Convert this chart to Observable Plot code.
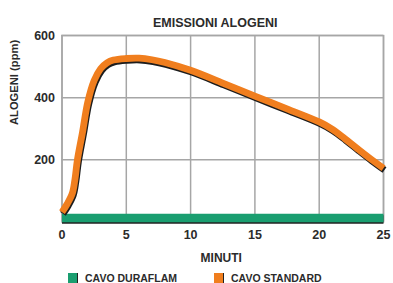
<!DOCTYPE html>
<html>
<head>
<meta charset="utf-8">
<script src="https://cdn.jsdelivr.net/npm/d3@7"></script>
<script src="https://cdn.jsdelivr.net/npm/@observablehq/plot@0.6"></script>
<style>
  html, body { margin: 0; padding: 0; background: #fff; overflow: hidden; }
  #wrap { position: relative; width: 393px; height: 283px; font-family: "Liberation Sans", Arial, sans-serif; font-weight: bold; color: #2b2b2b; }
  .leg { position: absolute; top: 273px; display: flex; align-items: flex-start; font-size: 10.5px; line-height: 10px; white-space: nowrap; }
  .sw { width: 9px; height: 10px; border-right: 1.5px solid #222; margin-right: 7px; }
</style>
</head>
<body>
<div id="wrap"></div>
<script>
const title = "EMISSIONI ALOGENI";
const xLabel = "MINUTI";
const yLabel = "ALOGENI (ppm)";
const seriesNames = ["CAVO DURAFLAM", "CAVO STANDARD"];
const seriesColors = ["#1a9e70", "#f07e1e"];
const xTicks = [0, 5, 10, 15, 20, 25];
const yTicks = [200, 400, 600];

const standardMinutes = [0, 0.4, 0.8, 1.0, 1.2, 1.6, 2.0, 2.5, 3.0, 3.5, 4.0, 5.0, 6.0, 7.0, 8.0, 10, 12.5, 15, 17.5, 20, 21, 22, 23, 24, 25];
const standardValues  = [32, 58, 92, 135, 200, 290, 385, 455, 493, 512, 521, 526, 527, 522, 513, 488, 447, 405, 364, 322, 299, 268, 235, 203, 173];
const duraflamMinutes = [0, 25];
const duraflamValues  = [13, 13];

const standard = standardMinutes.map((m, i) => ({m, v: standardValues[i]}));
const duraflam = duraflamMinutes.map((m, i) => ({m, v: duraflamValues[i]}));

const grid = "#a6a6a6";
const chart = Plot.plot({
  width: 393,
  height: 270,
  marginLeft: 61.5,
  marginRight: 10,
  marginTop: 35,
  marginBottom: 48.5,
  style: {fontFamily: '"Liberation Sans", Arial, sans-serif', fontWeight: "bold", color: "#2b2b2b", background: "#fff", overflow: "visible"},
  x: {domain: [0, 25]},
  y: {domain: [0, 600]},
  marks: [
    Plot.ruleX(xTicks, {stroke: grid, strokeWidth: 1.5}),
    Plot.ruleY(yTicks, {stroke: grid, strokeWidth: 1.5}),
    Plot.frame({stroke: grid, strokeWidth: 1.5}),
    Plot.line(duraflam, {x: "m", y: "v", stroke: "#222", strokeWidth: 8.4, dy: 1.5, strokeLinecap: "butt"}),
    Plot.line(duraflam, {x: "m", y: "v", stroke: seriesColors[0], strokeWidth: 8.4, strokeLinecap: "butt"}),
    Plot.line(standard, {x: "m", y: "v", curve: "catmull-rom", stroke: "#1d1d1d", strokeWidth: 6.8, dx: 1, dy: 1.8, strokeLinecap: "butt", strokeLinejoin: "round"}),
    Plot.line(standard, {x: "m", y: "v", curve: "catmull-rom", stroke: seriesColors[1], strokeWidth: 6.8, strokeLinecap: "butt", strokeLinejoin: "round"}),
    Plot.axisX(xTicks, {tickSize: 0, tickPadding: 8, fontSize: 12.5, label: null}),
    Plot.axisY(yTicks, {tickSize: 0, tickPadding: 7, fontSize: 12.5, label: null}),
    Plot.text([title], {frameAnchor: "top", dx: -7.5, dy: -17.5, fontSize: 12.5, fontWeight: "bold"}),
    Plot.text([xLabel], {frameAnchor: "bottom", dx: -1.5, dy: 39.5, fontSize: 12, fontWeight: "bold"}),
    Plot.text([yLabel], {frameAnchor: "left", rotate: -90, dx: -48, dy: -3.75, fontSize: 11.2, fontWeight: "bold"})
  ]
});
const wrap = document.getElementById("wrap");
wrap.appendChild(chart);
const legLefts = [68, 214];
seriesNames.forEach((name, i) => {
  const d = document.createElement("div");
  d.className = "leg";
  d.style.left = legLefts[i] + "px";
  const s = document.createElement("div");
  s.className = "sw";
  s.style.background = seriesColors[i];
  const t = document.createElement("span");
  t.textContent = name;
  d.appendChild(s); d.appendChild(t);
  wrap.appendChild(d);
});
</script>
</body>
</html>
